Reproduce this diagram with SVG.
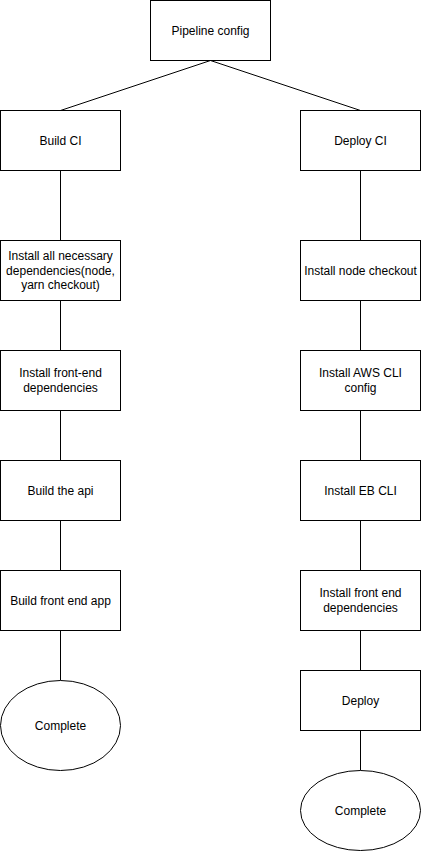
<svg xmlns="http://www.w3.org/2000/svg" width="421" height="851" viewBox="0 0 421 851">
<style>
.n rect, .n ellipse { fill: #ffffff; stroke: #000000; stroke-width: 1; }
.n text { font-family: "Liberation Sans", Arial, sans-serif; font-size: 12px; fill: #000000; text-anchor: middle; }
.c line { stroke: #000000; stroke-width: 1; fill: none; }
</style>
<rect width="421" height="851" fill="#ffffff"/>
<g class="c" id="connectors">
<line x1="210.5" y1="60.5" x2="60.5" y2="110.5"/>
<line x1="210.5" y1="60.5" x2="360.5" y2="110.5"/>
<line x1="60.5" y1="170.5" x2="60.5" y2="240.5"/>
<line x1="60.5" y1="300.5" x2="60.5" y2="350.5"/>
<line x1="60.5" y1="410.5" x2="60.5" y2="460.5"/>
<line x1="60.5" y1="520.5" x2="60.5" y2="570.5"/>
<line x1="60.5" y1="630.5" x2="60.5" y2="680.5"/>
<line x1="360.5" y1="170.5" x2="360.5" y2="240.5"/>
<line x1="360.5" y1="300.5" x2="360.5" y2="350.5"/>
<line x1="360.5" y1="410.5" x2="360.5" y2="460.5"/>
<line x1="360.5" y1="520.5" x2="360.5" y2="570.5"/>
<line x1="360.5" y1="630.5" x2="360.5" y2="670.5"/>
<line x1="360.5" y1="730.5" x2="360.5" y2="770.5"/>
</g>
<g class="n" id="pipeline-config"><rect x="150.5" y="0.5" width="120" height="60"/><text x="210.5" y="34.5">Pipeline config</text></g>
<g class="n" id="build-ci"><rect x="0.5" y="110.5" width="120" height="60"/><text x="60.5" y="144.5">Build CI</text></g>
<g class="n" id="deploy-ci"><rect x="300.5" y="110.5" width="120" height="60"/><text x="360.5" y="144.5">Deploy CI</text></g>
<g class="n" id="install-all"><rect x="0.5" y="240.5" width="120" height="60"/><text x="60.5" y="260.1">Install all necessary</text><text x="60.5" y="274.5">dependencies(node,</text><text x="60.5" y="288.9">yarn checkout)</text></g>
<g class="n" id="install-frontend"><rect x="0.5" y="350.5" width="120" height="60"/><text x="60.5" y="377.3">Install front-end</text><text x="60.5" y="391.7">dependencies</text></g>
<g class="n" id="build-api"><rect x="0.5" y="460.5" width="120" height="60"/><text x="60.5" y="494.5">Build the api</text></g>
<g class="n" id="build-frontend-app"><rect x="0.5" y="570.5" width="120" height="60"/><text x="60.5" y="604.5">Build front end app</text></g>
<g class="n" id="complete-left"><ellipse cx="60.5" cy="725.5" rx="60" ry="45"/><text x="60.5" y="729.5">Complete</text></g>
<g class="n" id="install-node"><rect x="300.5" y="240.5" width="120" height="60"/><text x="360.5" y="274.5">Install node checkout</text></g>
<g class="n" id="install-aws"><rect x="300.5" y="350.5" width="120" height="60"/><text x="360.5" y="377.3">Install AWS CLI</text><text x="360.5" y="391.7">config</text></g>
<g class="n" id="install-eb"><rect x="300.5" y="460.5" width="120" height="60"/><text x="360.5" y="494.5">Install EB CLI</text></g>
<g class="n" id="install-frontend-deps"><rect x="300.5" y="570.5" width="120" height="60"/><text x="360.5" y="597.3">Install front end</text><text x="360.5" y="611.7">dependencies</text></g>
<g class="n" id="deploy"><rect x="300.5" y="670.5" width="120" height="60"/><text x="360.5" y="704.5">Deploy</text></g>
<g class="n" id="complete-right"><ellipse cx="360.5" cy="810.5" rx="60" ry="40"/><text x="360.5" y="814.5">Complete</text></g>
</svg>
